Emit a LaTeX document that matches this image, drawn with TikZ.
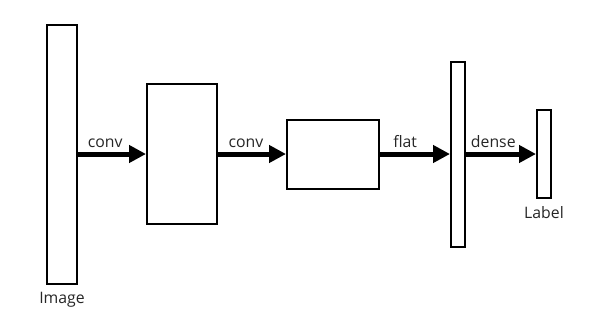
\documentclass[tikz,border=0pt]{standalone}
\usepackage{fontspec}
\setmainfont{Open Sans}
\usetikzlibrary{arrows.meta}
\begin{document}
\begin{tikzpicture}[x=1pt,y=-1pt,
  layer/.style={draw=black,line width=2pt,fill=white,inner sep=0pt,rectangle},
  conn/.style={line width=5pt,-{Triangle[length=17pt,width=17pt]}},
  lbl/.style={font=\fontsize{15.8}{18}\selectfont,inner sep=0pt,text=black!85}]
\useasboundingbox (0,0) rectangle (592,316);
\node[layer,minimum width=30pt,minimum height=259pt] (img) at (62,154.5) {};
\node[layer,minimum width=70pt,minimum height=140pt] (c1) at (182,154) {};
\node[layer,minimum width=92pt,minimum height=69pt] (c2) at (333,154) {};
\node[layer,minimum width=14pt,minimum height=185pt] (fl) at (458,154.5) {};
\node[layer,minimum width=14pt,minimum height=88pt] (out) at (544,154) {};
\draw[conn] (img.east |- 0,154) -- node[lbl,pos=0.4,anchor=base,yshift=7pt] (l1) {conv} (c1.west |- 0,154);
\draw[conn] (c1.east |- 0,154) -- node[lbl,pos=0.41,anchor=base,yshift=7pt] (l2) {conv} (c2.west |- 0,154);
\draw[conn] (c2.east |- 0,154) -- node[lbl,pos=0.36,anchor=base,yshift=7pt] (l3) {flat} (fl.west |- 0,154);
\draw[conn] (fl.east |- 0,154) -- node[lbl,pos=0.39,anchor=base,yshift=7pt] (l4) {dense} (out.west |- 0,154);
\node[lbl,anchor=base] (imgl) at ([yshift=-18pt]img.south) {Image};
\node[lbl,anchor=base] (outl) at ([yshift=-19pt]out.south) {Label};
\end{tikzpicture}
\end{document}
